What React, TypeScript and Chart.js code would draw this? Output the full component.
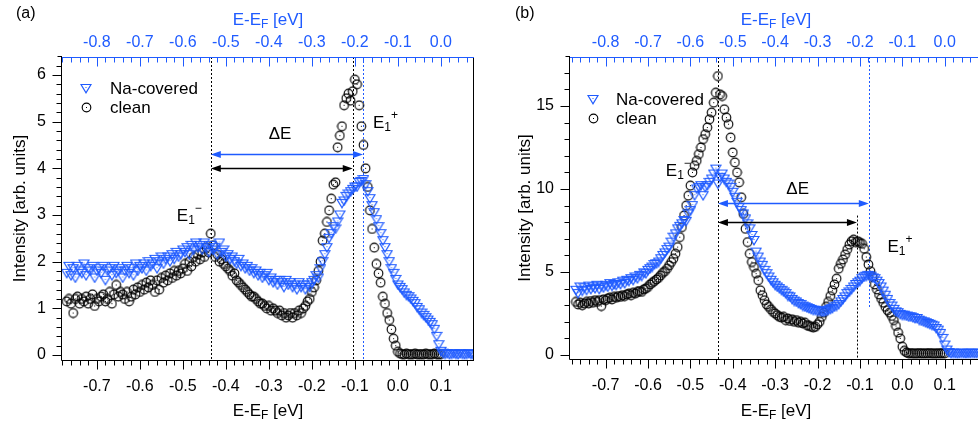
import { useEffect, useRef } from "react";
import { Chart, registerables } from "chart.js";
Chart.register(...registerables);

const FONT = '"Liberation Sans", Arial, Helvetica, sans-serif';
const BLUE = "#1f5bff";

// energy grid of the measurement (bottom axis, eV)
const E_START = -0.77;
const E_STEP = 0.005;
// top axis is shifted by this amount
const TOP_SHIFT = 0.1;

// ---------- panel (a) ----------
const cleanA = [
  1.15,1.2,1.1,0.9,1.2,1.25,1.1,1.2,1.15,1.25, 1.1,1.2,1.3,1.05,1.2,1.15,1.25,1.3,1.15,1.2,
  1.35,1.1,1.3,1.5,1.25,1.35,1.3,1.2,1.35,1.15, 1.25,1.4,1.3,1.45,1.35,
  1.5,1.4,1.55,1.45,1.6,1.5,1.35,1.6,1.4,1.65, 1.55,1.7,1.6,1.75,1.65,1.8,1.7,1.8,1.75,1.85,
  1.95,1.8,2.0,1.9,2.1,2.0,2.15,2.05,2.2,2.1, 2.3,2.2,2.6,2.35,2.1,2.15,2.0,2.05,1.95,1.9,
  1.85,1.8,1.7,1.75,1.6,1.55,1.5,1.45,1.4,1.35, 1.3,1.25,1.25,1.2,1.15,1.1,1.1,1.05,1.0,1.05,
  0.95,1.0,0.95,0.9,0.95,0.85,0.9,0.8,0.85,0.9, 0.8,0.9,0.85,0.95,0.9,1.0,1.05,1.15,1.2,1.35,
  1.45,1.6,1.8,2.0,2.45,2.6,2.85,3.1,3.35,3.65, 3.7,4.45,4.7,4.9,5.35,5.5,5.6,5.45,5.65,5.9,
  5.8,5.35,4.9,4.5,4.0,3.6,3.1,2.7,2.3,1.95, 1.75,1.55,1.25,1.1,0.9,0.75,0.55,0.35,0.2,0.07,
  0.03,0.02,0.01,0.03,0.02,0.01,0.02,0.03,0.01,0.02, 0.02,0.01,0.03,0.02,0.01,0.02,0.03,0.02,0.01,0.02,
];
const naA = [
  1.75,1.9,1.7,1.85,1.65,1.9,1.8,1.75,1.95,1.7, 1.85,1.8,1.9,1.65,1.8,1.85,1.75,1.9,1.6,1.8,
  1.85,1.7,1.9,1.75,1.8,1.85,1.65,1.8,1.9,1.75, 1.85,1.7,1.95,1.8,1.9,
  1.85,1.95,1.8,2.0,1.9,1.95,2.05,1.85,2.0,2.1, 1.95,2.05,2.1,2.0,2.15,2.05,2.2,2.1,2.15,2.25,
  2.2,2.3,2.15,2.35,2.25,2.4,2.3,2.35,2.25,2.4, 2.3,2.2,2.35,2.25,2.3,2.15,2.4,2.2,2.25,2.1,
  2.15,2.05,2.1,2.0,1.95,2.05,1.9,1.95,1.85,1.9, 1.8,1.85,1.75,1.8,1.7,1.75,1.65,1.7,1.75,1.6,
  1.65,1.55,1.6,1.5,1.6,1.55,1.45,1.6,1.5,1.55, 1.45,1.5,1.4,1.55,1.45,1.5,1.4,1.5,1.45,1.55,
  1.6,1.7,1.65,1.85,2.0,2.15,2.3,2.5,2.6,2.75, 2.7,2.85,3.0,3.25,3.3,3.4,3.45,3.5,3.55,3.6,
  3.6,3.7,3.72,3.76,3.65,3.5,3.35,3.2,3.05,2.9, 2.75,2.6,2.45,2.3,2.15,2.0,1.85,1.75,1.62,1.5,
  1.45,1.4,1.33,1.28,1.25,1.2,1.15,1.1,1.02,0.97, 0.9,0.85,0.8,0.75,0.7,0.65,0.55,0.4,0.22,0.08,
  0.04,0.02,0.03,0.01,0.02,0.03,0.02,0.01,0.03,0.02, 0.01,0.02,0.03,0.02,0.01,
];

// ---------- panel (b) ----------
const cleanB = [
  3.2,3.05,3.15,3.0,3.1,3.2,3.1,3.25,3.15,3.3, 3.2,3.3,2.95,3.35,3.3,3.4,3.45,3.35,3.5,3.45,
  3.55,3.5,3.6,3.55,3.65,3.7,3.6,3.75,3.7,3.8, 3.85,3.8,3.95,4.0,4.1,
  4.25,4.35,4.45,4.55,4.65,4.8,4.95,5.05,5.2,5.4, 5.6,5.8,6.1,6.5,7.1,7.7,8.4,9.0,9.6,10.2,
  11.0,11.4,11.7,12.1,12.5,13.0,13.3,13.7,14.2,14.6, 15.2,15.8,16.8,15.7,15.6,14.8,14.3,13.9,13.1,12.2,
  11.6,11.0,10.4,9.5,8.5,7.6,6.8,6.1,5.6,5.3, 4.9,4.5,3.9,3.6,3.3,3.05,2.9,2.75,2.6,2.5,
  2.4,2.3,2.25,2.3,2.1,2.2,2.05,2.15,2.0,2.1, 1.95,2.0,1.9,1.95,1.8,1.75,1.7,1.65,1.7,1.85,
  2.0,2.3,2.55,2.9,3.2,3.55,3.9,4.25,4.6,5.2, 5.5,5.75,6.05,6.35,6.65,6.85,6.95,6.8,6.85,6.75,
  6.7,6.4,5.9,5.45,5.05,4.7,4.25,3.95,3.65,3.4, 3.15,2.9,2.7,2.55,2.35,2.1,1.75,1.35,1.0,0.5,
  0.25,0.15,0.1,0.12,0.1,0.08,0.1,0.12,0.1,0.09, 0.11,0.1,0.12,0.1,0.08,0.1,0.11,0.1,0.12,0.1,
];
const naB = [
  3.9,3.7,4.1,3.85,4.05,3.9,4.15,3.95,4.1,4.0, 4.2,3.95,4.15,4.05,4.2,4.1,4.3,4.15,4.25,4.2,
  4.35,4.25,4.45,4.3,4.5,4.45,4.6,4.5,4.7,4.6, 4.8,4.75,4.95,4.9,5.1,
  5.2,5.3,5.45,5.5,5.6,5.8,6.0,6.15,6.35,6.5, 6.8,7.1,7.3,7.6,7.75,7.9,8.1,8.05,8.5,8.7,
  9.0,9.6,10.0,10.1,10.2,9.6,10.1,10.2,10.4,10.6, 10.9,11.2,10.3,10.7,10.9,10.6,10.4,10.3,10.1,9.8,
  9.5,9.2,8.9,8.7,8.5,8.2,7.9,7.6,7.2,6.9, 6.2,5.9,5.6,5.4,5.1,4.9,4.7,4.5,4.35,4.2,
  4.1,4.0,3.9,3.8,3.7,3.55,3.5,3.35,3.25,3.2, 3.1,3.05,2.95,2.9,2.85,2.8,2.75,2.7,2.7,2.65,
  2.65,2.6,2.6,2.65,2.7,2.75,2.8,2.9,2.95,3.05, 3.2,3.35,3.5,3.7,3.8,3.95,4.1,4.25,4.35,4.45,
  4.6,4.7,4.75,4.8,4.75,4.65,4.6,4.45,4.3,4.1, 3.85,3.6,3.35,3.1,2.95,2.75,2.6,2.55,2.45,2.4,
  2.4,2.35,2.3,2.3,2.25,2.2,2.2,2.1,2.05,2.0, 1.95,1.9,1.85,1.8,1.75,1.6,1.5,1.3,1.0,0.6,
  0.3,0.15,0.1,0.12,0.1,0.08,0.1,0.12,0.1,0.09, 0.11,0.1,0.12,0.1,0.1,0.11,0.09,
];

// tick labels
const bottomTickValues = [-0.7, -0.6, -0.5, -0.4, -0.3, -0.2, -0.1, 0.0, 0.1];
const topTickValues = [-0.8, -0.7, -0.6, -0.5, -0.4, -0.3, -0.2, -0.1, 0.0];
const yTicksA = [0, 1, 2, 3, 4, 5, 6];
const yTicksB = [0, 5, 10, 15];

const seriesNames = ["Na-covered", "clean"];

// peak positions (bottom-axis eV) and intensity limits of the dashed markers
const peakLinesA = [
  { e: -0.435, color: "#000", lo: null, hi: null },
  { e: -0.105, color: "#000", lo: null, hi: null },
  { e: -0.081, color: BLUE, lo: null, hi: null },
];
const peakLinesB = [
  { e: -0.435, color: "#000", lo: null, hi: null },
  { e: -0.107, color: "#000", lo: null, hi: 8.4 },
  { e: -0.079, color: BLUE, lo: 2.8, hi: null },
];
const arrowsA = [
  { from: -0.435, to: -0.081, y: 4.31, color: BLUE },
  { from: -0.435, to: -0.105, y: 4.0, color: "#000" },
];
const arrowsB = [
  { from: -0.435, to: -0.079, y: 9.16, color: BLUE },
  { from: -0.435, to: -0.107, y: 8.0, color: "#000" },
];
const labelsA = [
  { kind: "E1", sign: "\u2212", e: -0.514, v: 3.0 },
  { kind: "E1", sign: "+", e: -0.058, v: 4.99 },
  { kind: "dE", sign: "", e: -0.274, v: 4.76 },
];
const labelsB = [
  { kind: "E1", sign: "\u2212", e: -0.558, v: 11.14 },
  { kind: "E1", sign: "+", e: -0.035, v: 6.57 },
  { kind: "dE", sign: "", e: -0.247, v: 10.06 },
];

type PanelCfg = {
  left: number; width: number; yWidth: number; topH: number; bottomH: number; padRight: number;
  xMin: number; xMax: number; yMin: number; yMax: number; yMajor: number; yMinor: number;
  yTicks: number[]; clean: number[]; na: number[];
  lines: { e: number; color: string; lo: number | null; hi: number | null }[];
  arrows: { from: number; to: number; y: number; color: string }[];
  labels: { kind: string; sign: string; e: number; v: number }[];
  letter: string; letterX: number; legendX: number; legendTextX: number; legendY: number[];
  yTitleX: number;
};

const panelA: PanelCfg = {
  left: 0, width: 489, yWidth: 62, topH: 57, bottomH: 67, padRight: 15,
  xMin: -0.781, xMax: 0.177, yMin: -0.107, yMax: 6.385, yMajor: 1, yMinor: 0.2,
  yTicks: yTicksA, clean: cleanA, na: naA, lines: peakLinesA, arrows: arrowsA, labels: labelsA,
  letter: "(a)", letterX: 16, legendX: 86, legendTextX: 110, legendY: [88, 107], yTitleX: 20,
};
const panelB: PanelCfg = {
  left: 489, width: 499, yWidth: 81, topH: 57, bottomH: 68, padRight: 0,
  xMin: -0.784, xMax: 0.188, yMin: -0.24, yMax: 17.95, yMajor: 5, yMinor: 1,
  yTicks: yTicksB, clean: cleanB, na: naB, lines: peakLinesB, arrows: arrowsB, labels: labelsB,
  letter: "(b)", letterX: 26, legendX: 104, legendTextX: 127, legendY: [99, 118], yTitleX: 36,
};

function makeCircle(): HTMLCanvasElement {
  const c = document.createElement("canvas");
  c.width = 11; c.height = 11;
  const g = c.getContext("2d")!;
  g.strokeStyle = "#000"; g.lineWidth = 1.15;
  g.beginPath(); g.arc(5.5, 5.5, 4.3, 0, Math.PI * 2); g.stroke();
  g.fillStyle = "#000"; g.fillRect(5, 5, 1, 1);
  return c;
}
function makeTri(): HTMLCanvasElement {
  const c = document.createElement("canvas");
  c.width = 12; c.height = 11;
  const g = c.getContext("2d")!;
  g.strokeStyle = BLUE; g.lineWidth = 1.2;
  g.beginPath(); g.moveTo(1, 1.5); g.lineTo(11, 1.5); g.lineTo(6, 9.8); g.closePath(); g.stroke();
  g.fillStyle = BLUE; g.fillRect(5.5, 4, 1, 1);
  return c;
}

function richText(ctx: CanvasRenderingContext2D, parts: { t: string; size: number; dy: number }[], x: number, baseline: number, align: "left" | "center") {
  let total = 0;
  for (const p of parts) { ctx.font = `${p.size}px ${FONT}`; total += ctx.measureText(p.t).width; }
  let cx = align === "center" ? x - total / 2 : x;
  ctx.textAlign = "left"; ctx.textBaseline = "alphabetic";
  for (const p of parts) {
    ctx.font = `${p.size}px ${FONT}`;
    ctx.fillText(p.t, cx, baseline + p.dy);
    cx += ctx.measureText(p.t).width;
  }
}

function titleParts() {
  return [
    { t: "E-E", size: 17, dy: 0 },
    { t: "F", size: 12, dy: 3 },
    { t: " [eV]", size: 17, dy: 0 },
  ];
}

function makeChart(canvas: HTMLCanvasElement, cfg: PanelCfg, tri: HTMLCanvasElement, circ: HTMLCanvasElement) {
  const decor = {
    id: "decor",
    beforeDatasetsDraw(chart: any) {
      const ctx = chart.ctx as CanvasRenderingContext2D;
      const xs = chart.scales.x, ys = chart.scales.y;
      const { top, bottom } = chart.chartArea;
      ctx.save();
      ctx.lineWidth = 1;
      ctx.setLineDash([2, 2]);
      for (const l of cfg.lines) {
        const px = Math.round(xs.getPixelForValue(l.e)) + 0.5;
        const y1 = l.hi === null ? top : ys.getPixelForValue(l.hi);
        const y2 = l.lo === null ? bottom : ys.getPixelForValue(l.lo);
        ctx.strokeStyle = l.color;
        ctx.beginPath(); ctx.moveTo(px, y1); ctx.lineTo(px, y2); ctx.stroke();
      }
      ctx.restore();
    },
    afterDatasetsDraw(chart: any) {
      const ctx = chart.ctx as CanvasRenderingContext2D;
      const xs = chart.scales.x, xt = chart.scales.x2, ys = chart.scales.y;
      const { left, right, top, bottom } = chart.chartArea;
      ctx.save();
      // arrows
      for (const a of cfg.arrows) {
        const x1 = xs.getPixelForValue(a.from), x2 = xs.getPixelForValue(a.to);
        const py = Math.round(ys.getPixelForValue(a.y)) + 0.5;
        ctx.strokeStyle = a.color; ctx.fillStyle = a.color; ctx.lineWidth = 1.3;
        ctx.beginPath(); ctx.moveTo(x1 + 6, py); ctx.lineTo(x2 - 6, py); ctx.stroke();
        const hl = 10, hw = 3.5;
        ctx.beginPath(); ctx.moveTo(x1, py); ctx.lineTo(x1 + hl, py - hw); ctx.lineTo(x1 + hl, py + hw); ctx.closePath(); ctx.fill();
        ctx.beginPath(); ctx.moveTo(x2, py); ctx.lineTo(x2 - hl, py - hw); ctx.lineTo(x2 - hl, py + hw); ctx.closePath(); ctx.fill();
      }
      // labels
      ctx.fillStyle = "#000";
      for (const lb of cfg.labels) {
        const px = xs.getPixelForValue(lb.e), py = ys.getPixelForValue(lb.v);
        if (lb.kind === "E1") {
          richText(ctx, [
            { t: "E", size: 17, dy: 0 },
            { t: "1", size: 12, dy: 3 },
            { t: lb.sign, size: 12, dy: -9 },
          ], px, py + 6, "left");
        } else {
          richText(ctx, [{ t: "\u0394E", size: 17, dy: 0 }], px, py + 6, "center");
        }
      }
      // axes
      ctx.lineWidth = 1;
      ctx.setLineDash([]);
      ctx.strokeStyle = "#000";
      const by = Math.round(bottom) + 0.5;
      const lx = Math.round(left) - 0.5;
      ctx.beginPath();
      ctx.moveTo(lx, by); ctx.lineTo(right, by);
      ctx.moveTo(lx, top - 1); ctx.lineTo(lx, by);
      ctx.moveTo(lx - 4, top - 0.5); ctx.lineTo(lx, top - 0.5);
      const rx = Math.round(right) - 0.5;
      ctx.moveTo(rx, top); ctx.lineTo(rx, by);
      for (let k = -40; k <= 10; k++) {
        const v = k * 0.02;
        if (v < xs.min || v > xs.max) continue;
        const px = Math.round(xs.getPixelForValue(v)) + 0.5;
        const len = k % 5 === 0 ? 9 : 5;
        ctx.moveTo(px, by); ctx.lineTo(px, by + len);
      }
      const nMinor = Math.round(cfg.yMajor / cfg.yMinor);
      for (let k = 0; k * cfg.yMinor <= ys.max; k++) {
        const v = k * cfg.yMinor;
        const py = Math.round(ys.getPixelForValue(v)) + 0.5;
        const len = k % nMinor === 0 ? 9 : 5;
        ctx.moveTo(lx, py); ctx.lineTo(lx - len, py);
      }
      ctx.stroke();
      ctx.strokeStyle = BLUE;
      const ty = Math.round(top) + 0.5;
      ctx.beginPath();
      ctx.moveTo(left, ty); ctx.lineTo(right, ty);
      for (let k = -46; k <= 6; k++) {
        const v = k * 0.02;
        if (v < xt.min || v > xt.max) continue;
        const px = Math.round(xt.getPixelForValue(v)) + 0.5;
        const len = k % 5 === 0 ? 9 : 5;
        ctx.moveTo(px, ty); ctx.lineTo(px, ty + len);
      }
      ctx.stroke();
      // legend
      const imgs = [tri, circ];
      ctx.font = `17px ${FONT}`;
      ctx.textBaseline = "middle"; ctx.textAlign = "left"; ctx.fillStyle = "#000";
      seriesNames.forEach((name, i) => {
        const im = imgs[i];
        ctx.drawImage(im, Math.round(cfg.legendX - im.width / 2), Math.round(cfg.legendY[i] - im.height / 2));
        ctx.fillText(name, cfg.legendTextX, cfg.legendY[i] + 1);
      });
      // titles
      const cx = (left + right) / 2;
      ctx.fillStyle = "#000";
      richText(ctx, titleParts(), cx, 416, "center");
      ctx.fillStyle = BLUE;
      richText(ctx, titleParts(), cx, 25, "center");
      ctx.fillStyle = "#000";
      ctx.save();
      ctx.translate(cfg.yTitleX, (top + bottom) / 2);
      ctx.rotate(-Math.PI / 2);
      ctx.font = `17px ${FONT}`;
      ctx.textAlign = "center"; ctx.textBaseline = "middle";
      ctx.fillText("Intensity [arb. units]", 0, 0);
      ctx.restore();
      ctx.font = `16px ${FONT}`;
      ctx.textAlign = "left"; ctx.textBaseline = "middle";
      ctx.fillText(cfg.letter, cfg.letterX, 14);
      ctx.restore();
    },
  };

  const pts = (arr: number[]) => arr.map((v, i) => ({ x: E_START + i * E_STEP, y: v }));
  const tickFont = { family: FONT, size: 16 };

  return new Chart(canvas, {
    type: "scatter",
    data: {
      datasets: [
        { label: seriesNames[0], data: pts(cfg.na), pointStyle: tri as any, pointRadius: 5, order: 1 },
        { label: seriesNames[1], data: pts(cfg.clean), pointStyle: circ as any, pointRadius: 5, order: 2 },
      ],
    },
    options: {
      animation: false,
      responsive: false,
      devicePixelRatio: 1,
      events: [],
      layout: { padding: { left: 0, right: cfg.padRight, top: 0, bottom: 0 } },
      plugins: { legend: { display: false }, tooltip: { enabled: false } },
      scales: {
        x: {
          type: "linear", position: "bottom", min: cfg.xMin, max: cfg.xMax,
          grid: { display: false, drawTicks: false }, border: { display: false },
          afterBuildTicks: (s: any) => { s.ticks = bottomTickValues.map((v) => ({ value: v })); },
          afterFit: (s: any) => { s.height = cfg.bottomH; },
          ticks: { color: "#000", font: tickFont, padding: 17, maxRotation: 0, autoSkip: false, callback: (v: any) => Number(v).toFixed(1) },
        },
        x2: {
          type: "linear", axis: "x", position: "top", min: cfg.xMin - TOP_SHIFT, max: cfg.xMax - TOP_SHIFT,
          grid: { display: false, drawTicks: false }, border: { display: false },
          afterBuildTicks: (s: any) => { s.ticks = topTickValues.map((v) => ({ value: v })); },
          afterFit: (s: any) => { s.height = cfg.topH; },
          ticks: { color: BLUE, font: tickFont, padding: 5, maxRotation: 0, autoSkip: false, callback: (v: any) => Number(v).toFixed(1) },
        },
        y: {
          type: "linear", position: "left", min: cfg.yMin, max: cfg.yMax,
          grid: { display: false, drawTicks: false }, border: { display: false },
          afterBuildTicks: (s: any) => { s.ticks = cfg.yTicks.map((v) => ({ value: v })); },
          afterFit: (s: any) => { s.width = cfg.yWidth; },
          ticks: { color: "#000", font: tickFont, padding: 16, autoSkip: false, callback: (v: any) => String(v) },
        },
      },
    } as any,
    plugins: [decor],
  });
}

function Panel({ cfg }: { cfg: PanelCfg }) {
  const ref = useRef<HTMLCanvasElement>(null);
  useEffect(() => {
    const tri = makeTri();
    const circ = makeCircle();
    const chart = makeChart(ref.current!, cfg, tri, circ);
    return () => chart.destroy();
  }, [cfg]);
  return (
    <canvas
      ref={ref}
      width={cfg.width}
      height={427}
      style={{ position: "absolute", left: cfg.left, top: 0, width: cfg.width, height: 427 }}
    />
  );
}

export default function App() {
  return (
    <div style={{ position: "absolute", left: 0, top: 0, width: 978, height: 427, overflow: "hidden", background: "#fff" }}>
      <Panel cfg={panelA} />
      <Panel cfg={panelB} />
    </div>
  );
}
